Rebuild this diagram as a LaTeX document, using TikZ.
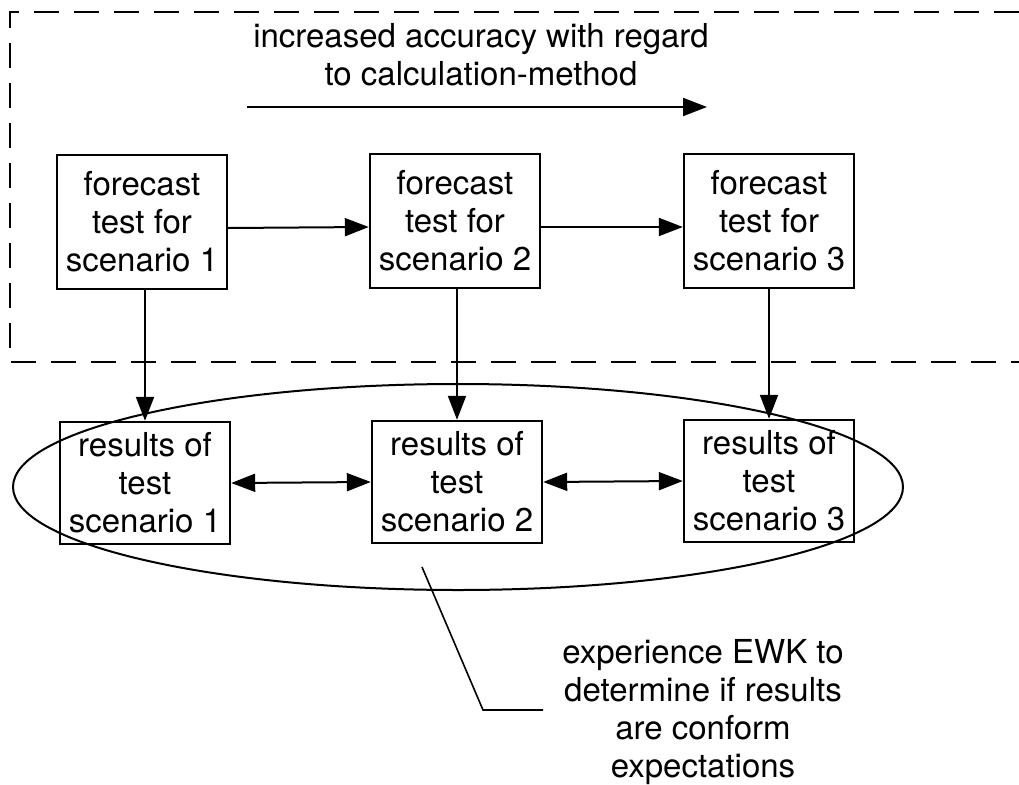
\documentclass[tikz,border=0pt]{standalone}
\usepackage{fontspec}
\setmainfont{TeX Gyre Heros}
\usetikzlibrary{arrows.meta,shapes.geometric}
\begin{document}
\begin{tikzpicture}[x=1pt,y=-1pt,
  every node/.style={font=\fontsize{33}{38}\selectfont, align=center},
  box/.style={draw, line width=2.4pt, inner sep=0pt, minimum width=170pt},
  topbox/.style={box, minimum height=134pt},
  resbox/.style={box, minimum height=122pt},
  flow/.style={line width=2pt, -{Triangle[length=24pt,width=18pt]}},
  twoway/.style={line width=2pt, {Triangle[length=24pt,width=18pt]}-{Triangle[length=24pt,width=18pt]}},
  frame/.style={line width=2.3pt, dash pattern=on 25pt off 15pt},
  group/.style={draw, ellipse, line width=2pt, minimum width=890pt, minimum height=206pt},
  leader/.style={line width=1.6pt},
]
\useasboundingbox (0,0) rectangle (1019,784);

% dashed frame around the forecast stage (open to the right)
\draw[frame] (1019,12) -- (10,12) -- (10,362) -- (1019,362);

% heading and its direction arrow
\node (title) at (481,55) {increased accuracy with regard\\to calculation-method};
\coordinate (accA) at (247,107);
\coordinate (accB) at (707,107);
\draw[flow] (accA) -- (accB);

% forecast tests
\node[topbox] (f1) at (142,222) {forecast\\test for\\scenario 1};
\node[topbox] (f2) at (455,221) {forecast\\test for\\scenario 2};
\node[topbox] (f3) at (769,221) {forecast\\test for\\scenario 3};

% results
\node[resbox] (r1) at (145,483) {results of\\test\\scenario 1};
\node[resbox] (r2) at (457,482) {results of\\test\\scenario 2};
\node[resbox] (r3) at (769,481) {results of\\test\\scenario 3};

% grouping ellipse around the results
\node[group] (grp) at (458,487) {};

% connectors
\draw[flow] ([yshift=-6pt]f1.east) -- ([yshift=-6pt]f2.west);
\draw[flow] ([yshift=-6pt]f2.east) -- ([yshift=-6pt]f3.west);
\draw[flow] (r1.north |- f1.south) -- (r1.north);
\draw[flow] (r2.north |- f2.south) -- (r2.north);
\draw[flow] (r3.north |- f3.south) -- (r3.north);
\draw[twoway] (r1.east) -- (r2.west);
\draw[twoway] (r2.east) -- (r3.west);

% annotation
\node (note) at (703,712) {experience EWK to\\determine if results\\are conform\\expectations};
\coordinate (leadA) at (422,567);
\coordinate (leadB) at (483,710);
\coordinate (leadC) at (543,710);
\draw[leader] (leadA) -- (leadB) -- (leadC);
\end{tikzpicture}
\end{document}
